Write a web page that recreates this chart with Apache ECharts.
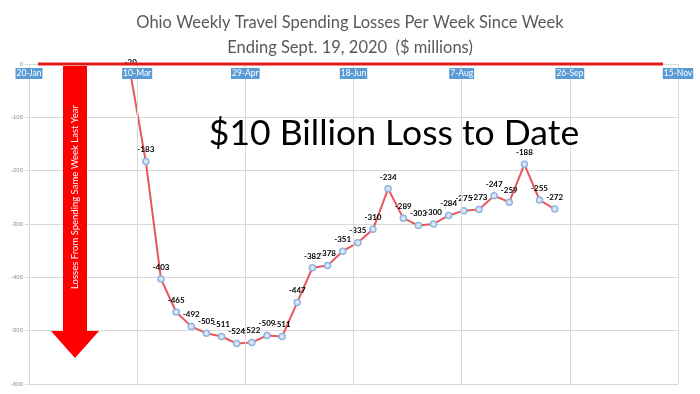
<!DOCTYPE html>
<html><head><meta charset="utf-8">
<script src="https://cdn.jsdelivr.net/npm/echarts@6/dist/echarts.min.js"></script>
<style>html,body{margin:0;padding:0;background:#fff}#c{width:700px;height:394px}</style>
</head><body><div id="c"></div>
<script>
const weekEnding = ['2020-03-07','2020-03-14','2020-03-21','2020-03-28','2020-04-04','2020-04-11','2020-04-18','2020-04-25','2020-05-02','2020-05-09','2020-05-16','2020-05-23','2020-05-30','2020-06-06','2020-06-13','2020-06-20','2020-06-27','2020-07-04','2020-07-11','2020-07-18','2020-07-25','2020-08-01','2020-08-08','2020-08-15','2020-08-22','2020-08-29','2020-09-05','2020-09-12','2020-09-19'];
const losses = [-20,-183,-403,-465,-492,-505,-511,-524,-522,-509,-511,-447,-382,-378,-351,-335,-310,-234,-289,-303,-300,-284,-275,-273,-247,-259,-188,-255,-272];
const xTickLabels = ['20-Jan','10-Mar','29-Apr','18-Jun','7-Aug','26-Sep','15-Nov'];
const originDate = '2020-01-20';

const DAY = 86400000;
const t0 = Date.parse(originDate + 'T00:00:00Z');
const dayOf = d => Math.round((Date.parse(d + 'T00:00:00Z') - t0) / DAY);
const seriesData = weekEnding.map((d, i) => [dayOf(d), losses[i]]);

const chart = echarts.init(document.getElementById('c'));
chart.setOption({
  animation: false,
  backgroundColor: '#fff',
  title: {
    text: 'Ohio Weekly Travel Spending Losses Per Week Since Week\nEnding Sept. 19, 2020  ($ millions)',
    left: 'center', top: 5,
    textStyle: { fontFamily: 'Lato, sans-serif', fontWeight: 'normal', fontSize: 16.5, color: '#595959', lineHeight: 25 }
  },
  grid: { left: 29, right: 22, top: 64, bottom: 10 },
  xAxis: {
    type: 'value', position: 'top', min: 0, max: 300, interval: 50, z: 5,
    axisLine: { show: false },
    axisTick: { show: false },
    splitLine: { show: true, lineStyle: { color: '#d9d9d9', width: 1 } },
    axisLabel: {
      inside: true, margin: 4,
      formatter: v => xTickLabels[Math.round(v / 50)] || '',
      color: '#ffffff', backgroundColor: '#5b9bd5', padding: [1, 1, 1, 1],
      fontSize: 8.5, fontFamily: 'Lato, sans-serif'
    }
  },
  yAxis: {
    type: 'value', min: -600, max: 0, interval: 100,
    axisLine: { show: false },
    axisTick: { show: true, length: 4, lineStyle: { color: '#d9d9d9' } },
    splitLine: { show: true, lineStyle: { color: '#d9d9d9', width: 1 } },
    axisLabel: { color: '#8c8c8c', fontSize: 6, margin: 6, fontFamily: 'Liberation Sans, sans-serif' }
  },
  series: [{
    type: 'line', data: seriesData, z: 3,
    lineStyle: { color: '#e8585a', width: 2 },
    symbol: 'circle', symbolSize: 6,
    itemStyle: { color: '#dce6f2', borderColor: '#8eb4e3', borderWidth: 1.5 },
    label: { show: true, position: 'top', distance: 4, color: '#000', fontSize: 8, fontWeight: 'bold', fontFamily: 'Lato, sans-serif' }
  }],
  graphic: [
    { type: 'line', shape: { x1: 38, y1: 64, x2: 663, y2: 64 }, style: { stroke: '#e41a1a', lineWidth: 3 }, z: 10 },
    { type: 'polygon', shape: { points: [[63, 66], [87, 66], [87, 331], [99, 331], [75, 358], [51, 331], [63, 331]] }, style: { fill: '#ff0000' }, z: 10 },
    { type: 'text', x: 75, y: 197, rotation: Math.PI / 2, z: 11,
      style: { text: 'Losses From Spending Same Week Last Year', fill: '#fff', fontSize: 9.5, fontFamily: 'Lato, sans-serif', align: 'center', verticalAlign: 'middle' } },
    { type: 'text', x: 394, y: 134, z: 11,
      style: { text: '$10 Billion Loss to Date', fill: '#000', fontSize: 35.5, fontFamily: 'Lato, sans-serif', align: 'center', verticalAlign: 'middle' } }
  ]
});
</script></body></html>
